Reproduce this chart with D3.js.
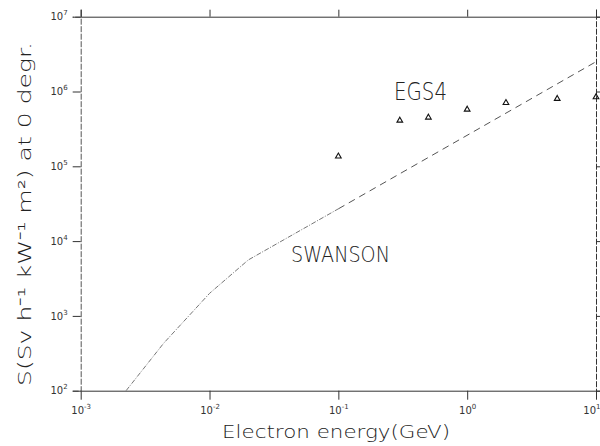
<!DOCTYPE html>
<html>
<head>
<meta charset="utf-8">
<script src="https://cdn.jsdelivr.net/npm/d3@7"></script>
<style>
	body { margin: 0; background: #fff; }
	text { font-family: "DejaVu Sans", sans-serif; font-weight: 200; fill: #222; }
</style>
</head>
<body>
<div id="chart"></div>
<script>
// EGS4 results (open triangles)
const egsEnergy = [0.1, 0.3, 0.5, 1, 2, 5, 10];
const egsDose = [1.36e5, 4.1e5, 4.5e5, 5.75e5, 7.05e5, 8.0e5, 8.4e5];

// Swanson curve
const swansonEnergy = [2.25e-3, 4.4e-3, 1e-2, 2e-2, 0.1, 10];
const swansonDose = [100, 430, 2000, 5600, 2.7e4, 2.5e6];

const xTicks = [1e-3, 1e-2, 1e-1, 1, 10];
const xTickExp = ["-3", "-2", "-1", "0", "1"];
const yTicks = [1e2, 1e3, 1e4, 1e5, 1e6, 1e7];
const yTickExp = ["2", "3", "4", "5", "6", "7"];

const
	width = 600,
	height = 446,
	plotLeft = 80.7,
	plotRight = 596,
	plotTop = 16.7,
	plotBottom = 390.7;

const svg = d3.select("#chart")
	.append("svg")
	.attr("width", width)
	.attr("height", height);

const x = d3.scaleLog().domain([1e-3, 10]).range([plotLeft, plotRight]);
const y = d3.scaleLog().domain([1e2, 1e7]).range([plotBottom, plotTop]);

function powerLabels(g, exps) {
	g.selectAll(".tick text").each(function (d, i) {
		const t = d3.select(this);
		t.text("");
		t.append("tspan").text("10");
		t.append("tspan")
			.attr("dy", -5)
			.attr("font-size", 7)
			.text(exps[i]);
	});
}

function styleAxis(g) {
	g.select(".domain").attr("stroke", "#333").attr("stroke-width", 1);
	g.selectAll(".tick line").attr("stroke", "#333");
	g.selectAll(".tick text")
		.style("font-family", "DejaVu Sans, sans-serif")
		.style("font-weight", "normal")
		.style("fill", "#333")
		.attr("font-size", 10);
}

// bottom axis
svg.append("g")
	.attr("transform", `translate(0,${plotBottom})`)
	.call(d3.axisBottom(x).tickValues(xTicks).tickSizeInner(9).tickSizeOuter(0).tickPadding(7))
	.call(styleAxis)
	.call(g => powerLabels(g, xTickExp))
	// last label sits at the window edge, keep it inside
	.call(g => g.selectAll(".tick text").filter(d => d === 10).attr("text-anchor", "end").attr("dx", 4));

// top axis
svg.append("g")
	.attr("transform", `translate(0,${plotTop})`)
	.call(d3.axisTop(x).tickValues(xTicks).tickSize(7).tickFormat(""))
	.call(styleAxis);

// left axis
svg.append("g")
	.attr("transform", `translate(${plotLeft},0)`)
	.call(d3.axisLeft(y).tickValues(yTicks).tickSize(8).tickPadding(5))
	.call(styleAxis)
	.call(g => powerLabels(g, yTickExp))
	.call(g => g.select(".domain").attr("stroke-dasharray", "6,1.5").attr("stroke", "#555"));

// right axis
svg.append("g")
	.attr("transform", `translate(${plotRight},0)`)
	.call(d3.axisRight(y).tickValues(yTicks).tickSize(4).tickFormat(""))
	.call(styleAxis)
	.call(g => g.select(".domain").attr("stroke-dasharray", "6,1.5"));

// Swanson curve: dotted-ish lower part, dashed upper part
const swanson = swansonEnergy.map((e, i) => ({ e, s: swansonDose[i] }));
const line = d3.line().x(d => x(d.e)).y(d => y(d.s));

svg.append("path")
	.datum(swanson.filter(d => d.e <= 0.1))
	.attr("d", line)
	.attr("fill", "none")
	.attr("stroke", "#777")
	.attr("stroke-width", 1)
	.attr("stroke-dasharray", "5,1.5,1,1.5");

svg.append("path")
	.datum(swanson.filter(d => d.e >= 0.1))
	.attr("d", line)
	.attr("fill", "none")
	.attr("stroke", "#555")
	.attr("stroke-width", 1)
	.attr("stroke-dasharray", "7,5");

// EGS4 points
const tri = d3.symbol().type(d3.symbolTriangle).size(14);
svg.selectAll(".egs")
	.data(egsEnergy.map((e, i) => ({ e, s: egsDose[i] })))
	.enter()
	.append("path")
	.attr("class", "egs")
	.attr("d", tri)
	.attr("transform", d => `translate(${x(d.e)},${y(d.s)})`)
	.attr("fill", "none")
	.attr("stroke", "#111")
	.attr("stroke-width", 1.1);

// curve labels
svg.append("text")
	.attr("x", 394)
	.attr("y", 100)
	.attr("font-size", 24)
	.attr("textLength", 53)
	.attr("lengthAdjust", "spacingAndGlyphs")
	.text("EGS4");

svg.append("text")
	.attr("x", 291)
	.attr("y", 262)
	.attr("font-size", 22)
	.attr("textLength", 99)
	.attr("lengthAdjust", "spacingAndGlyphs")
	.text("SWANSON");

// axis titles
svg.append("text")
	.attr("x", 222)
	.attr("y", 438)
	.attr("font-size", 18)
	.attr("textLength", 228)
	.attr("lengthAdjust", "spacingAndGlyphs")
	.text("Electron energy(GeV)");

svg.append("text")
	.attr("transform", "translate(31,386) rotate(-90)")
	.attr("font-size", 18)
	.attr("textLength", 344)
	.attr("lengthAdjust", "spacingAndGlyphs")
	.text("S(Sv h\u207B\u00B9 kW\u207B\u00B9 m\u00B2) at 0 degr.");
</script>
</body>
</html>
